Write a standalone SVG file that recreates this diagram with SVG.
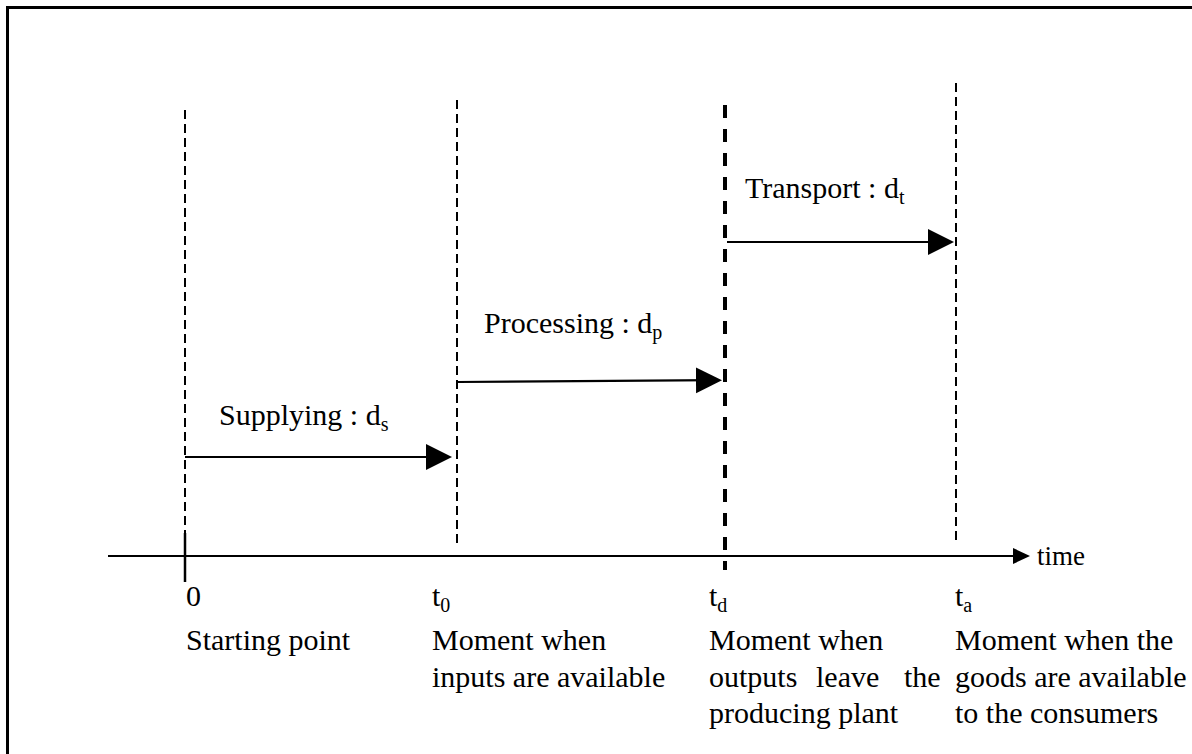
<svg xmlns="http://www.w3.org/2000/svg" width="1192" height="754" viewBox="0 0 1192 754">
<style>
text{font-family:"Liberation Serif","Times New Roman",serif;font-size:30px;fill:#000}
.sub{font-size:20px}
.dash{stroke:#000;stroke-width:2;stroke-dasharray:9 5;fill:none}
.dashb{stroke:#000;stroke-width:4;stroke-dasharray:13 11;fill:none}
.ln{stroke:#000;stroke-width:2.2;fill:none}
</style>
<defs>
<marker id="ah" markerUnits="userSpaceOnUse" markerWidth="28" markerHeight="28" refX="20" refY="13" orient="auto" viewBox="0 0 28 28">
<path d="M0,0 L26,13 L0,26 Z" fill="#000"/>
</marker>
<marker id="ahs" markerUnits="userSpaceOnUse" markerWidth="20" markerHeight="20" refX="12" refY="8" orient="auto" viewBox="0 0 20 20">
<path d="M0,0 L17,8 L0,16 Z" fill="#000"/>
</marker>
</defs>
<path d="M7.5,754 V7.5 H1192" stroke="#000" stroke-width="3" fill="none"/>
<g id="guides">
<line class="dash" x1="185" y1="110" x2="185" y2="548"/>
<line class="dash" x1="457" y1="100" x2="457" y2="548"/>
<line class="dashb" x1="725" y1="105" x2="725" y2="570"/>
<line class="dash" x1="956" y1="83" x2="956" y2="545"/>
</g>
<g id="connectors">
<line class="ln" x1="108" y1="556" x2="1025" y2="556" marker-end="url(#ahs)"/>
<line x1="185" y1="533" x2="185" y2="582" stroke="#000" stroke-width="2.5"/>
<line class="ln" x1="185" y1="457" x2="446" y2="457" marker-end="url(#ah)"/>
<line class="ln" x1="457" y1="382" x2="716" y2="380.2" marker-end="url(#ah)"/>
<line class="ln" x1="727" y1="242" x2="948" y2="242" marker-end="url(#ah)"/>
</g>
<g id="phase-labels">
<text x="219" y="425">Supplying : d<tspan class="sub" dy="6">s</tspan></text>
<text x="484" y="333">Processing : d<tspan class="sub" dy="6">p</tspan></text>
<text x="745" y="198">Transport : d<tspan class="sub" dy="6">t</tspan></text>
<text x="1037" y="565" style="font-size:27px">time</text>
</g>
<g id="point-0">
<text x="186" y="606">0</text>
<text x="186" y="650">Starting point</text>
</g>
<g id="point-t0">
<text x="432" y="606">t<tspan class="sub" dy="6">0</tspan></text>
<text x="432" y="650">Moment when</text>
<text x="432" y="687">inputs are available</text>
</g>
<g id="point-td">
<text x="709" y="606">t<tspan class="sub" dy="6">d</tspan></text>
<text x="709" y="650">Moment when</text>
<text y="687"><tspan x="709">outputs</tspan><tspan x="816">leave</tspan><tspan x="904">the</tspan></text>
<text x="709" y="723">producing plant</text>
</g>
<g id="point-ta">
<text x="955" y="606">t<tspan class="sub" dy="6">a</tspan></text>
<text x="955" y="650">Moment when the</text>
<text x="955" y="687">goods are available</text>
<text x="955" y="723">to the consumers</text>
</g>
</svg>
